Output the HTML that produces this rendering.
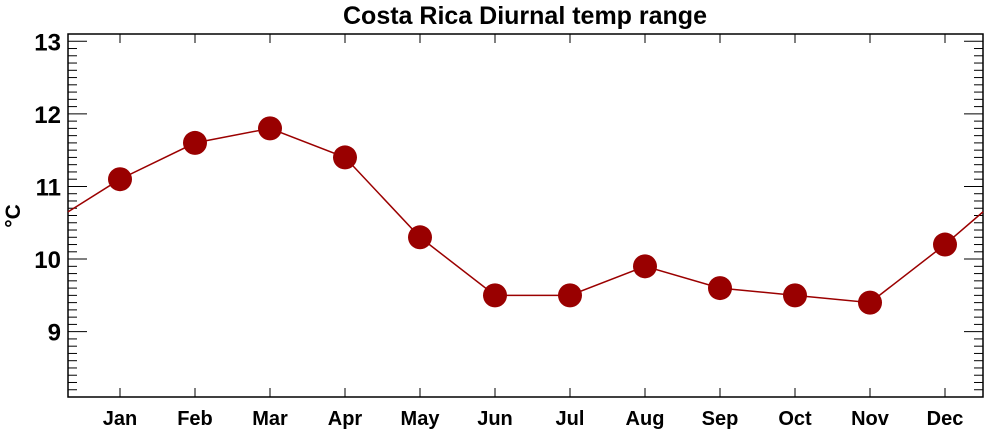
<!DOCTYPE html>
<html><head><meta charset="utf-8"><style>
body{margin:0;background:#fff;font-family:"Liberation Sans",Arial,sans-serif;}
svg text{font-family:"Liberation Sans",Arial,sans-serif;font-weight:bold;fill:#000;}
</style></head><body>
<svg id="chart" width="1000" height="432">
<text x="525" y="24" text-anchor="middle" font-size="25">Costa Rica Diurnal temp range</text>
<text transform="translate(20,216) rotate(-90)" text-anchor="middle" font-size="21">°C</text>
<g id="axes"></g>
<g id="marks"></g>
</svg>
<script>
const months=["Jan","Feb","Mar","Apr","May","Jun","Jul","Aug","Sep","Oct","Nov","Dec"];
const values=[11.1,11.6,11.8,11.4,10.3,9.5,9.5,9.9,9.6,9.5,9.4,10.2];
const yTicks=[9,10,11,12,13];
const L=68,R=983,T=34,B=397,yMin=8.1,yMax=13.1;
const xs=i=>120+75*i;
const ys=v=>B-(v-yMin)/(yMax-yMin)*(B-T);
const NS="http://www.w3.org/2000/svg";
const ax=document.getElementById('axes'),mk=document.getElementById('marks');
function el(t,a,p){const e=document.createElementNS(NS,t);for(const k in a)e.setAttribute(k,a[k]);p.appendChild(e);return e;}
const frame=el('rect',{x:L,y:T,width:R-L,height:B-T,fill:'none',stroke:'#000','stroke-width':1.5},ax);


for(let v=Math.ceil(yMin*10)/10;v<=yMax+1e-9;v+=0.1){
  const major=Math.abs(v-Math.round(v))<1e-6,y=ys(v),len=major?19:9;
  el('line',{x1:L,x2:L+len,y1:y,y2:y,stroke:'#000','stroke-width':1},ax);
  el('line',{x1:R,x2:R-len,y1:y,y2:y,stroke:'#000','stroke-width':1},ax);
}
yTicks.forEach(v=>{const t=el('text',{x:L-7,y:ys(v)+9,'text-anchor':'end','font-size':24},ax);t.textContent=v;

});
months.forEach((m,i)=>{const x=xs(i);
  el('line',{x1:x,x2:x,y1:B,y2:B-9,stroke:'#000'},ax);
  el('line',{x1:x,x2:x,y1:T,y2:T+9,stroke:'#000'},ax);
  const t=el('text',{x:x,y:425,'text-anchor':'middle','font-size':20},ax);t.textContent=m;
  
  });
const edge=(values[0]+values[11])/2;
let pts=[[L,ys(edge)]];values.forEach((v,i)=>pts.push([xs(i),ys(v)]));pts.push([R,ys(edge)]);
const line=el('polyline',{points:pts.map(p=>p.join(',')).join(' '),fill:'none',stroke:'#9b0000','stroke-width':1.5},mk);


values.forEach((v,i)=>{const c=el('circle',{cx:xs(i),cy:ys(v),r:12,fill:'#990000'},mk);

});
</script>
</body></html>
